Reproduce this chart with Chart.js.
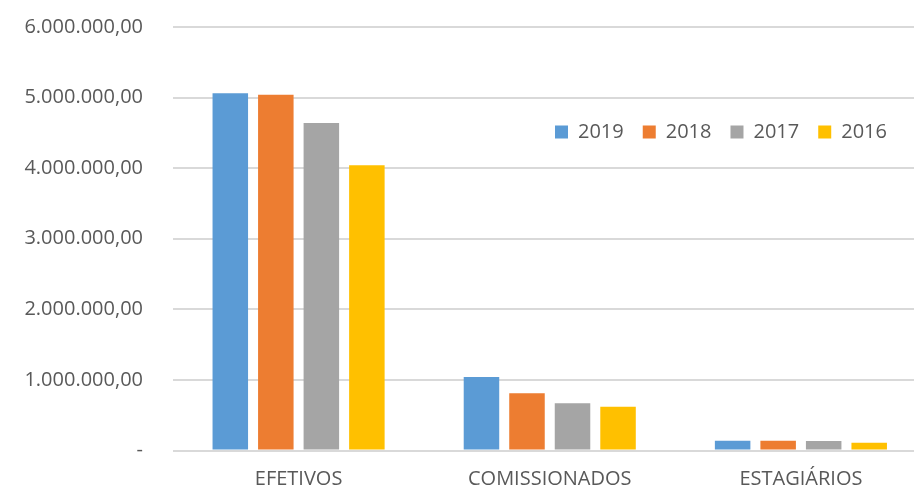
<!DOCTYPE html>
<html>
<head>
<meta charset="utf-8">
<title>Despesas com pessoal</title>
<script src="https://cdn.jsdelivr.net/npm/chart.js@4.4.0/dist/chart.umd.min.js"></script>
<style>
  html, body { margin: 0; padding: 0; background: #fff; overflow: hidden; }
  #wrap { width: 930px; height: 491px; }
</style>
</head>
<body>
<div id="wrap"><canvas id="chart"></canvas></div>
<script>
const categories = ['EFETIVOS', 'COMISSIONADOS', 'ESTAGIÁRIOS'];
const years = ['2019', '2018', '2017', '2016'];
const values2019 = [5060000, 1040000, 137000];
const values2018 = [5040000, 810000, 137000];
const values2017 = [4640000, 670000, 135000];
const values2016 = [4040000, 620000, 110000];
const tickLabels = ['-', '1.000.000,00', '2.000.000,00', '3.000.000,00', '4.000.000,00', '5.000.000,00', '6.000.000,00'];
const colors = ['#5B9BD5', '#ED7D31', '#A5A5A5', '#FFC000'];

Chart.defaults.font.family = "'Open Sans', sans-serif";
Chart.defaults.font.size = 20;
Chart.defaults.color = '#595959';

// legend sits inside the plot in the original: take no layout space, then move it
const legendShift = {
    id: 'legendShift',
    beforeLayout(chart) {
        const lg = chart.legend;
        if (lg && !lg._origFit) {
            lg._origFit = lg.fit;
            lg.fit = function () {
                this._origFit();
                this._realHeight = this.height;
                this.height = 0;
            };
        }
    },
    afterUpdate(chart) {
        const lg = chart.legend;
        const w = lg.width;
        lg.height = lg._realHeight;
        lg.left = 536;
        lg.right = lg.left + w;
        lg.top = 103;
        lg.bottom = lg.top + lg.height;
        lg.adjustHitBoxes();
    }
};

const series = [values2019, values2018, values2017, values2016];

new Chart(document.getElementById('chart'), {
    type: 'bar',
    data: {
        labels: categories,
        datasets: years.map((y, i) => ({
            label: y,
            data: series[i],
            backgroundColor: colors[i],
            borderWidth: 0,
            categoryPercentage: 0.725,
            barPercentage: 0.78
        }))
    },
    options: {
        responsive: true,
        maintainAspectRatio: false,
        animation: false,
        layout: { padding: { top: 27, right: 3.5, left: 0, bottom: 0 } },
        plugins: {
            legend: {
                position: 'top',
                align: 'start',
                labels: {
                    boxWidth: 13,
                    boxHeight: 13,
                    padding: 19,
                    color: '#595959',
                    font: { size: 20 }
                }
            },
            tooltip: { enabled: false }
        },
        scales: {
            x: {
                grid: { display: false, drawTicks: false },
                border: { display: false },
                ticks: { padding: 17, font: { size: 20 }, color: '#595959' },
                afterFit: s => { s.height = 40.5; }
            },
            y: {
                min: 0,
                max: 6000000,
                ticks: {
                    stepSize: 1000000,
                    padding: 0,
                    color: '#595959',
                    font: { size: 20 },
                    callback: (v, i) => tickLabels[i]
                },
                // invisible tick marks keep the labels 30px off the plot
                grid: { color: '#d9d9d9', lineWidth: 2, tickLength: 30, tickColor: 'rgba(0,0,0,0)' },
                border: { display: false },
                afterFit: s => { s.width = 173; }
            }
        }
    },
    plugins: [legendShift]
});
</script>
</body>
</html>
